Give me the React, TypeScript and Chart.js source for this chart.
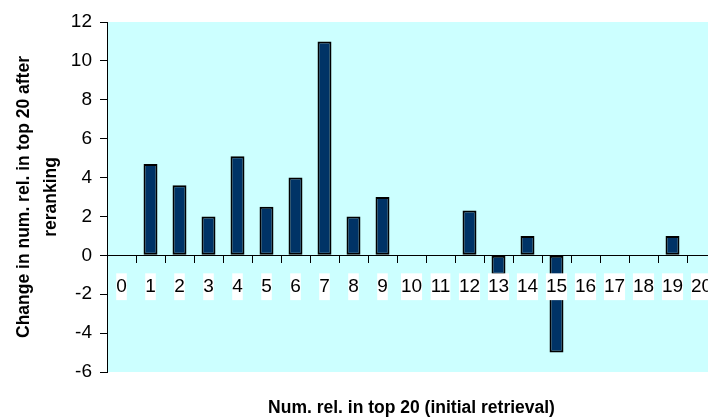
import React, { useEffect, useRef } from "react";
import { Chart, registerables } from "chart.js";

Chart.register(...registerables);

const categories = ["0", "1", "2", "3", "4", "5", "6", "7", "8", "9", "10", "11", "12", "13", "14", "15", "16", "17", "18", "19", "20"];
const changeValues = [0, 4.7, 3.6, 2, 5.1, 2.5, 4, 11, 2, 3, 0, 0, 2.3, -1, 1, -5, 0, 0, 0, 1, 0];
const yMin = -6;
const yMax = 12;
const yStep = 2;
const yTitleLines = ["Change in num. rel. in top 20 after", "reranking"];
const xTitle = "Num. rel. in top 20 (initial retrieval)";

const FONT = "'Liberation Sans', Arial, sans-serif";

const plotBackground = {
  id: "plotBackground",
  beforeDraw(chart: any) {
    const { ctx, chartArea } = chart;
    if (!chartArea) return;
    ctx.save();
    ctx.fillStyle = "#CCFFFF";
    ctx.fillRect(chartArea.left, chartArea.top, chartArea.right - chartArea.left, chartArea.bottom - chartArea.top);
    ctx.restore();
  },
};

export default function App() {
  const canvasRef = useRef<HTMLCanvasElement | null>(null);

  useEffect(() => {
    const canvas = canvasRef.current;
    if (!canvas) return;
    const chart = new Chart(canvas, {
      type: "bar",
      data: {
        labels: categories,
        datasets: [
          {
            data: changeValues,
            backgroundColor: "#003366",
            borderColor: "#000000",
            borderWidth: 2,
            borderSkipped: false,
            barPercentage: 0.535,
            categoryPercentage: 0.9,
          },
        ],
      },
      options: {
        responsive: false,
        animation: false,
        devicePixelRatio: 1,
        layout: { padding: { left: 0, top: 22, right: 14, bottom: 0 } },
        plugins: {
          legend: { display: false },
          tooltip: { enabled: false },
          title: {
            display: true,
            position: "bottom",
            fullSize: false,
            text: xTitle,
            color: "#000000",
            font: { family: FONT, size: 17.5, weight: "bold", lineHeight: 1.2 },
            padding: { top: 25.5, bottom: 1.5 },
          },
        },
        scales: {
          x: {
            type: "category",
            position: { y: 0 } as any,
            offset: true,
            afterFit: (scale: any) => {
              scale.height = 0;
            },
            grid: {
              offset: true,
              drawOnChartArea: false,
              drawTicks: true,
              tickLength: 7,
              color: "#000000",
              lineWidth: 1,
            },
            border: { display: true, color: "#000000", width: 1 },
            ticks: {
              z: 1,
              color: "#000000",
              font: { family: FONT, size: 19, lineHeight: 1.2 },
              padding: 13,
              autoSkip: false,
              maxRotation: 0,
              minRotation: 0,
              showLabelBackdrop: true,
              backdropColor: "#FFFFFF",
              backdropPadding: { top: 2, bottom: 2, left: 0, right: 0 },
            },
          },
          y: {
            type: "linear",
            position: "left",
            min: yMin,
            max: yMax,
            afterFit: (scale: any) => {
              scale.width = 107;
            },
            grid: {
              drawOnChartArea: false,
              drawTicks: true,
              tickLength: 7,
              color: "#000000",
              lineWidth: 1,
            },
            border: { display: true, color: "#000000", width: 1 },
            ticks: {
              stepSize: yStep,
              color: "#000000",
              font: { family: FONT, size: 19 },
              padding: 8,
            },
            title: {
              display: true,
              text: yTitleLines,
              color: "#000000",
              font: { family: FONT, size: 17.5, weight: "bold", lineHeight: 1.57 },
              padding: { top: 10, bottom: 0 },
            },
          },
        },
      },
      plugins: [plotBackground],
    } as any);
    return () => chart.destroy();
  }, []);

  return (
    <div style={{ position: "fixed", left: 0, top: 0, width: 708, height: 420, overflow: "hidden", background: "#FFFFFF" }}>
      <canvas ref={canvasRef} width={730} height={420} style={{ display: "block" }} />
    </div>
  );
}
